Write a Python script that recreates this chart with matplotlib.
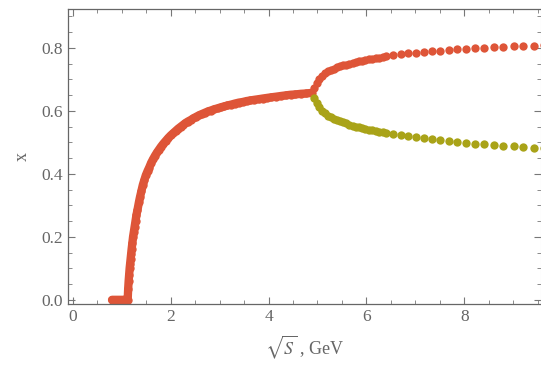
import numpy as np
import matplotlib
matplotlib.use('Agg')
import matplotlib.pyplot as plt
from matplotlib.ticker import MultipleLocator

plt.rcParams['font.family'] = ['Liberation Serif', 'DejaVu Serif']
plt.rcParams['mathtext.fontset'] = 'stix'

# main branch (threshold rise + upper branch after the split)
x_main = [0.80, 0.82, 0.84, 0.86, 0.88, 0.90, 0.92, 0.94, 0.96, 0.98, 1.00, 1.02, 1.04, 1.06,
          1.08, 1.10, 1.12, 1.13, 1.14, 1.15, 1.16, 1.17, 1.18, 1.19, 1.20, 1.215, 1.23, 1.245,
          1.26, 1.28, 1.30, 1.32, 1.35, 1.37, 1.40, 1.43, 1.46, 1.49, 1.53, 1.56, 1.60, 1.64,
          1.68, 1.72, 1.76, 1.80, 1.85, 1.90, 1.95, 2.00, 2.05, 2.10, 2.15, 2.20, 2.25, 2.30,
          2.35, 2.41, 2.46, 2.52, 2.58, 2.64, 2.70, 2.76, 2.82, 2.89, 2.96, 3.02, 3.09, 3.16,
          3.24, 3.31, 3.39, 3.47, 3.55, 3.63, 3.71, 3.80, 3.88, 3.97, 4.06, 4.16, 4.25, 4.35,
          4.45, 4.55, 4.66, 4.77, 4.88,
          4.93, 4.99, 5.04, 5.10, 5.16, 5.22, 5.28, 5.34, 5.40, 5.46, 5.52, 5.59, 5.65, 5.72,
          5.78, 5.85, 5.91, 5.98, 6.05, 6.12, 6.19, 6.26, 6.33, 6.40, 6.55, 6.70,
          6.86, 7.01, 7.18, 7.34, 7.51, 7.68, 7.86, 8.04, 8.22, 8.41, 8.61, 8.80, 9.01, 9.21,
          9.43, 9.64]
y_main = [0.0, 0.0, 0.0, 0.0, 0.0, 0.0, 0.0, 0.0, 0.0, 0.0, 0.0, 0.0, 0.0, 0.0,
          0.0, 0.0, 0.0, 0.035, 0.06, 0.08, 0.10, 0.115, 0.13, 0.145, 0.16, 0.18, 0.20, 0.215,
          0.23, 0.25, 0.27, 0.285, 0.31, 0.325, 0.345, 0.365, 0.38, 0.395, 0.41, 0.42, 0.435, 0.447,
          0.458, 0.468, 0.477, 0.486, 0.496, 0.505, 0.514, 0.522, 0.529, 0.536, 0.543, 0.549, 0.555, 0.561,
          0.566, 0.571, 0.576, 0.581, 0.586, 0.590, 0.594, 0.598, 0.601, 0.605, 0.608, 0.611, 0.614, 0.617,
          0.620, 0.623, 0.626, 0.628, 0.631, 0.633, 0.635, 0.637, 0.639, 0.641, 0.643, 0.645, 0.647, 0.649,
          0.651, 0.652, 0.654, 0.655, 0.657,
          0.672, 0.688, 0.701, 0.712, 0.719, 0.725, 0.730, 0.734, 0.738, 0.741, 0.744, 0.747, 0.750, 0.752,
          0.755, 0.757, 0.759, 0.761, 0.763, 0.765, 0.767, 0.769, 0.771, 0.773, 0.776, 0.779,
          0.782, 0.785, 0.787, 0.789, 0.791, 0.793, 0.795, 0.797, 0.799, 0.800, 0.802, 0.803, 0.805, 0.806,
          0.807, 0.808]

# lower branch after the split
x_low = [4.93, 4.99, 5.04, 5.10, 5.16, 5.22, 5.28, 5.34, 5.40, 5.46, 5.52, 5.59, 5.65, 5.72,
         5.78, 5.85, 5.91, 5.98, 6.05, 6.12, 6.19, 6.26, 6.33, 6.40, 6.55, 6.70,
         6.86, 7.01, 7.18, 7.34, 7.51, 7.68, 7.86, 8.04, 8.22, 8.41, 8.61, 8.80, 9.01, 9.21,
         9.43, 9.64]
y_low = [0.640, 0.625, 0.611, 0.600, 0.592, 0.585, 0.580, 0.575, 0.571, 0.567, 0.563, 0.560, 0.556, 0.553,
         0.550, 0.548, 0.545, 0.543, 0.540, 0.538, 0.536, 0.534, 0.532, 0.530, 0.526, 0.523,
         0.520, 0.517, 0.514, 0.511, 0.508, 0.505, 0.502, 0.499, 0.496, 0.494, 0.491, 0.489, 0.487, 0.485,
         0.483, 0.481]

red = '#de5538'
olive = '#a9a318'
gray = '#666666'
ms = 6.0

# the points sit so close below the split that they merge into a band
n_dense = x_main.index(4.88) + 1

fig = plt.figure(figsize=(5.41, 3.78), dpi=100)
ax = fig.add_axes([0.1257, 0.196, 0.8743, 0.780])

ax.plot(x_main[:n_dense], y_main[:n_dense], '-', color=red, lw=ms,
        solid_capstyle='round', solid_joinstyle='round')
ax.plot(x_main, y_main, 'o', color=red, markersize=ms, markeredgewidth=0)
ax.plot(x_low, y_low, 'o', color=olive, markersize=ms, markeredgewidth=0)

ax.set_xlim(-0.10, 9.57)
ax.set_ylim(-0.013, 0.923)

ax.xaxis.set_major_locator(MultipleLocator(2))
ax.xaxis.set_minor_locator(MultipleLocator(0.5))
ax.yaxis.set_major_locator(MultipleLocator(0.2))
ax.yaxis.set_minor_locator(MultipleLocator(0.05))
ax.yaxis.set_major_formatter(matplotlib.ticker.FormatStrFormatter('%.1f'))

ax.tick_params(which='both', direction='in', top=True, right=True, colors='#777777',
               labelcolor=gray, labelsize=12.5)
ax.tick_params(which='major', length=5, width=0.8)
ax.tick_params(which='minor', length=3, width=0.6)
for side in ['left', 'bottom', 'top']:
    ax.spines[side].set_color('#666666')
    ax.spines[side].set_linewidth(0.9)
ax.spines['right'].set_color('#e0e0e0')

ax.set_xlabel(r'$\sqrt{S}$ , GeV', color=gray, fontsize=13, labelpad=6)
ax.set_ylabel('x', color=gray, fontsize=13, labelpad=8)

plt.savefig('out.png', dpi=100)
plt.close(fig)
